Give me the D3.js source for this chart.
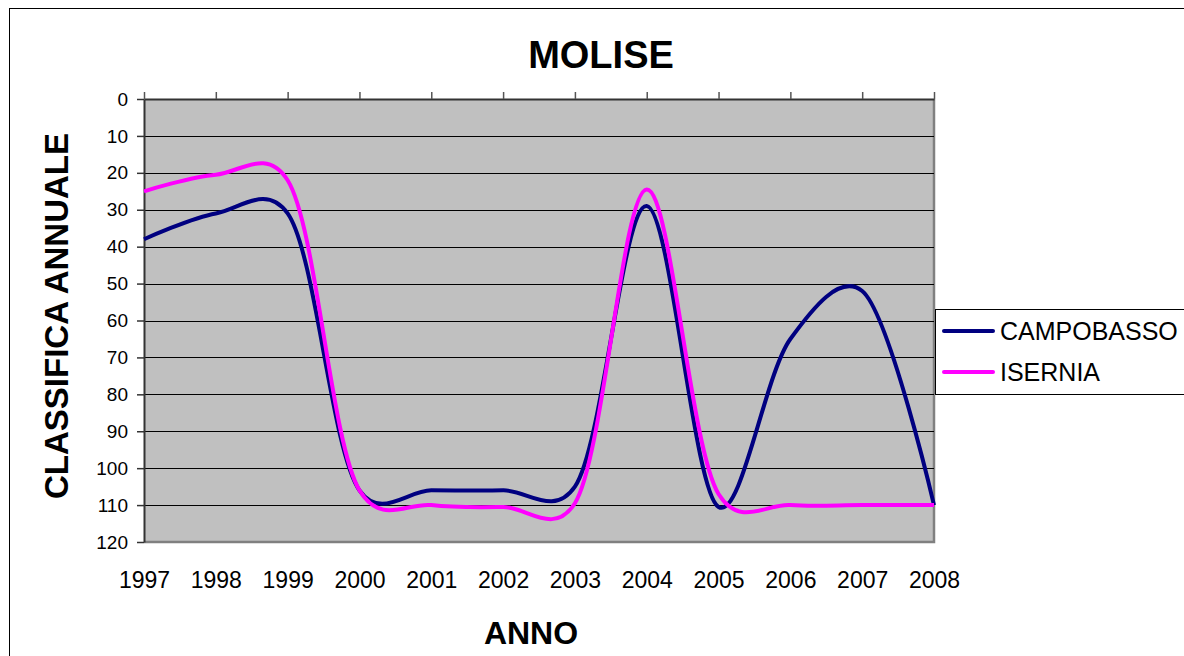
<!DOCTYPE html>
<html>
<head>
<meta charset="utf-8">
<script src="https://cdn.jsdelivr.net/npm/d3@7"></script>
<style>
  body { margin: 0; background: #fff; }
  svg text { font-family: Arial, "Liberation Sans", sans-serif; fill: #000; }
</style>
</head>
<body>
<div id="chart"></div>
<script>
// Yearly ranking (lower = better, axis reversed)
const years = [1997, 1998, 1999, 2000, 2001, 2002, 2003, 2004, 2005, 2006, 2007, 2008];
const campobasso = [38, 31, 31, 106, 106, 106, 105, 29, 110.5, 65, 52, 110];
const isernia = [25, 20.5, 22, 106, 110, 110.5, 109.5, 24.5, 107, 110, 110, 110];
const yTicks = [0, 10, 20, 30, 40, 50, 60, 70, 80, 90, 100, 110, 120];
const series = [
    { name: 'CAMPOBASSO', values: campobasso, color: '#000080' },
    { name: 'ISERNIA', values: isernia, color: '#FF00FF' }
];

const width = 1184, height = 656;
const plot = { left: 144, right: 934, top: 99, bottom: 542 };

const svg = d3.select('#chart')
    .append('svg')
    .attr('width', width)
    .attr('height', height);

// chart border
svg.append('rect')
    .attr('x', 9.5).attr('y', 8.5)
    .attr('width', 1300).attr('height', 800)
    .attr('fill', '#fff')
    .attr('stroke', '#000')
    .attr('stroke-width', 1);

const x = d3.scaleLinear().domain([1997, 2008]).range([plot.left, plot.right]);
const y = d3.scaleLinear().domain([0, 120]).range([plot.top, plot.bottom]);

// plot area
svg.append('rect')
    .attr('x', plot.left).attr('y', plot.top)
    .attr('width', plot.right - plot.left)
    .attr('height', plot.bottom - plot.top)
    .attr('fill', '#C0C0C0');

// right / bottom border of the plot area
svg.append('path')
    .attr('d', `M${plot.right},${plot.top}V${plot.bottom}H${plot.left}`)
    .attr('fill', 'none')
    .attr('stroke', '#808080')
    .attr('stroke-width', 2.5);

// gridlines
svg.append('g')
    .selectAll('line')
    .data(yTicks.filter(d => d > 0 && d < 120))
    .enter()
    .append('line')
    .attr('x1', plot.left).attr('x2', plot.right)
    .attr('y1', d => Math.round(y(d)) + 0.5)
    .attr('y2', d => Math.round(y(d)) + 0.5)
    .attr('stroke', '#000')
    .attr('stroke-width', 1.2);

// y axis
const yAxis = svg.append('g')
    .attr('transform', `translate(${plot.left},0)`)
    .call(d3.axisLeft(y).tickValues(yTicks).tickSize(7).tickPadding(9).tickSizeOuter(0));
yAxis.select('.domain').attr('stroke', '#333').attr('stroke-width', 2);
yAxis.selectAll('.tick line').attr('stroke', '#333').attr('stroke-width', 1.5);
yAxis.selectAll('text').attr('font-size', 19).attr('font-family', 'Arial, "Liberation Sans", sans-serif');

// x axis at the top (ranking 0), ticks only
const xTop = svg.append('g')
    .attr('transform', `translate(0,${plot.top})`)
    .call(d3.axisTop(x).tickValues(years).tickSize(7).tickFormat('').tickSizeOuter(0));
xTop.select('.domain').attr('stroke', '#333').attr('stroke-width', 2);
xTop.selectAll('.tick line').attr('stroke', '#555').attr('stroke-width', 1.5);

// x labels at the bottom
const xBottom = svg.append('g')
    .attr('transform', `translate(0,${plot.bottom})`)
    .call(d3.axisBottom(x).tickValues(years).tickSize(0).tickPadding(30).tickFormat(d3.format('d')));
xBottom.select('.domain').remove();
xBottom.selectAll('text').attr('font-size', 23).attr('font-family', 'Arial, "Liberation Sans", sans-serif');

// lines (smoothed like the spreadsheet's "smooth line")
const line = d3.line()
    .x((d, i) => x(years[i]))
    .y(d => y(d))
    .curve(d3.curveCatmullRom.alpha(0.2));

svg.append('g')
    .selectAll('path')
    .data(series)
    .enter()
    .append('path')
    .attr('d', d => line(d.values))
    .attr('fill', 'none')
    .attr('stroke', d => d.color)
    .attr('stroke-width', 4)
    .attr('stroke-linejoin', 'round');

// titles
svg.append('text')
    .attr('x', 601).attr('y', 68)
    .attr('text-anchor', 'middle')
    .attr('font-size', 38).attr('font-weight', 'bold')
    .text('MOLISE');

svg.append('text')
    .attr('transform', 'translate(68,316) rotate(-90)')
    .attr('text-anchor', 'middle')
    .attr('font-size', 33).attr('font-weight', 'bold')
    .text('CLASSIFICA ANNUALE');

svg.append('text')
    .attr('x', 531).attr('y', 644)
    .attr('text-anchor', 'middle')
    .attr('font-size', 32).attr('font-weight', 'bold')
    .text('ANNO');

// legend
const legend = svg.append('g').attr('transform', 'translate(935,309)');
legend.append('rect')
    .attr('x', 0.5).attr('y', 0.5)
    .attr('width', 400).attr('height', 85)
    .attr('fill', '#fff')
    .attr('stroke', '#000')
    .attr('stroke-width', 1);

const items = legend.selectAll('.item')
    .data(series)
    .enter()
    .append('g')
    .attr('transform', (d, i) => `translate(0,${22 + i * 41})`);
items.append('line')
    .attr('x1', 9).attr('x2', 58)
    .attr('stroke', d => d.color)
    .attr('stroke-width', 4)
    .attr('stroke-linecap', 'round');
items.append('text')
    .attr('x', 65).attr('y', 9)
    .attr('font-size', 25)
    .text(d => d.name);
</script>
</body>
</html>
